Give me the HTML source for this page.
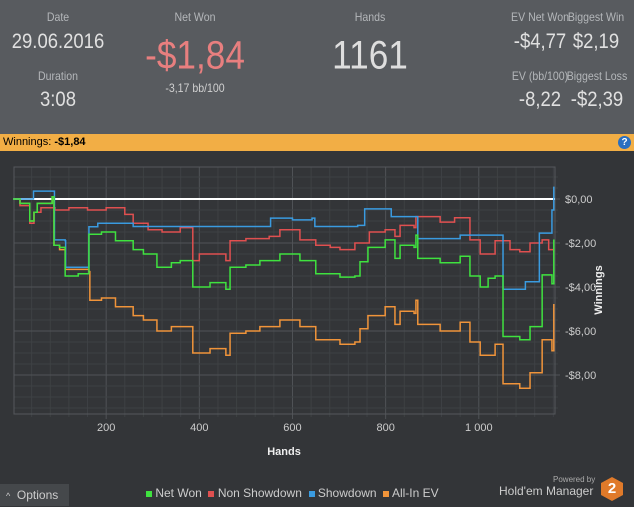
<!DOCTYPE html>
<html><head><meta charset="utf-8"><style>
body{margin:0;width:634px;height:506px;overflow:hidden;background:#333538;font-family:"Liberation Sans",sans-serif;position:relative}
.h{position:absolute;top:0;left:0;width:634px;height:134px;background:#585b5f}
.t{position:absolute;transform:translate(-50%,-50%) scaleX(0.88);white-space:nowrap;color:#c8c8c8}
.lab{font-size:12px;color:#b4b7ba}
.val{font-size:21px;color:#e0e0e0}
.bar{position:absolute;top:134px;left:0;width:634px;height:17px;background:#f2ae45;font-size:11px;line-height:17px}
</style></head><body>
<div class="h">
<div class="t lab" style="left:58px;top:17px">Date</div>
<div class="t val" style="left:58px;top:42px">29.06.2016</div>
<div class="t lab" style="left:58px;top:76px">Duration</div>
<div class="t val" style="left:58px;top:100px">3:08</div>
<div class="t lab" style="left:195px;top:17px">Net Won</div>
<div class="t" style="left:195px;top:56px;font-size:40px;color:#e87f7f">-$1,84</div>
<div class="t" style="left:195px;top:88px;font-size:12px;color:#d0d0d0">-3,17 bb/100</div>
<div class="t lab" style="left:370px;top:17px">Hands</div>
<div class="t" style="left:370px;top:56px;font-size:40px;color:#dedede">1161</div>
<div class="t lab" style="left:540px;top:17px">EV Net Won</div>
<div class="t val" style="left:540px;top:42px">-$4,77</div>
<div class="t lab" style="left:596px;top:17px">Biggest Win</div>
<div class="t val" style="left:596px;top:42px">$2,19</div>
<div class="t lab" style="left:540px;top:76px">EV (bb/100)</div>
<div class="t val" style="left:540px;top:100px">-8,22</div>
<div class="t lab" style="left:597px;top:76px">Biggest Loss</div>
<div class="t val" style="left:597px;top:100px">-$2,39</div>
</div>
<div class="bar"><span style="margin-left:3px">Winnings: <b>-$1,84</b></span>
<span style="position:absolute;right:3px;top:2px;width:13px;height:13px;border-radius:50%;background:#2a6fc0;color:#fff;font-size:10px;line-height:13px;text-align:center;font-weight:bold">?</span></div>
<svg id="c" width="634" height="506" style="position:absolute;left:0;top:0;pointer-events:none"></svg>
<div style="position:absolute;left:0;top:484px;width:69px;height:22px;background:#45484b;color:#ccc;font-size:12px;line-height:22px"><span style="margin-left:6px;font-size:9px">^</span> &nbsp;Options</div>
<div style="position:absolute;left:146px;top:486px;font-size:12px;color:#ccc;white-space:nowrap">
<span><span style="display:inline-block;width:6px;height:6px;background:#3fe23f"></span> Net Won</span>&nbsp;
<span><span style="display:inline-block;width:6px;height:6px;background:#e05050"></span> Non Showdown</span>&nbsp;
<span><span style="display:inline-block;width:6px;height:6px;background:#3a9be0"></span> Showdown</span>&nbsp;
<span><span style="display:inline-block;width:6px;height:6px;background:#f0943a"></span> All-In EV</span></div>
<div style="position:absolute;left:553px;top:475px;font-size:8px;color:#aaa">Powered by</div>
<div style="position:absolute;left:499px;top:484px;font-size:12px;color:#ccc">Hold'em Manager</div>
<div style="position:absolute;left:601px;top:477px;width:22px;height:24px;background:#e07a2a;clip-path:polygon(50% 0,100% 25%,100% 75%,50% 100%,0 75%,0 25%);color:#fff;font-weight:bold;font-size:15px;text-align:center;line-height:24px">2</div>
<script>
const netHands=[0,15,36,45,52,84,88,100,112,140,163,190,220,258,280,309,340,359,386,423,457,466,500,530,573,616,650,681,702,734,745,762,799,820,831,861,865,869,917,960,981,1003,1020,1035,1052,1088,1110,1136,1157,1161];
const netVals=[0,-0.2,-1.0,-0.6,-0.2,0.1,-2.1,-2.2,-3.5,-3.4,-1.6,-1.5,-1.9,-2.3,-2.5,-3.1,-2.9,-2.8,-4.0,-3.8,-4.1,-3.1,-3.0,-2.8,-2.5,-2.8,-3.4,-3.4,-3.55,-3.5,-2.85,-2.2,-1.86,-2.7,-2.1,-2.2,-1.64,-2.7,-2.9,-2.6,-3.5,-4.0,-3.6,-3.5,-6.25,-6.4,-5.8,-3.45,-3.85,-1.84];
const evHands=[0,15,36,45,52,84,88,100,112,163,165,190,220,258,280,309,340,359,386,423,457,466,500,530,573,616,650,681,702,734,745,762,799,820,831,861,865,869,917,960,981,1003,1035,1052,1088,1110,1136,1157,1161];
const evVals=[0,-0.2,-1.0,-0.6,-0.2,0.1,-2.1,-2.3,-3.2,-3.3,-4.6,-4.5,-4.9,-5.3,-5.5,-6.0,-5.8,-5.8,-7.0,-6.8,-7.1,-6.1,-6.0,-5.8,-5.5,-5.8,-6.4,-6.4,-6.6,-6.5,-5.9,-5.3,-4.9,-5.7,-5.1,-5.2,-4.6,-5.7,-6.0,-5.6,-6.5,-7.1,-6.6,-8.4,-8.6,-7.9,-6.4,-6.9,-4.77];
const nsdHands=[0,15,36,45,60,90,120,160,200,240,258,290,320,359,386,400,457,466,500,550,573,616,650,681,702,734,765,799,820,831,861,865,917,948,981,1003,1035,1067,1088,1110,1136,1150,1161];
const nsdVals=[0,-0.3,-1.1,-0.6,-0.4,-0.5,-0.4,-0.5,-0.4,-0.7,-1.1,-1.4,-1.5,-1.3,-2.8,-2.5,-2.8,-1.9,-1.8,-1.7,-1.4,-1.86,-2.1,-2.2,-2.3,-2.0,-1.5,-1.4,-1.7,-1.2,-1.3,-0.8,-1.05,-0.85,-1.86,-2.5,-1.9,-2.3,-2.4,-2.0,-1.86,-2.3,-2.4];
const sdHands=[0,43,44,88,89,112,113,162,163,182,258,552,553,600,642,648,740,755,812,869,960,1052,1100,1130,1157,1161];
const sdVals=[0,0,0.36,0.36,-1.86,-1.9,-3.1,-3.1,-1.26,-1.1,-1.25,-1.25,-0.87,-0.95,-0.87,-1.25,-1.2,-0.45,-0.8,-1.8,-1.64,-4.1,-3.76,-1.55,-0.5,0.56];
const xTicks=[200,400,600,800,1000];
const xTickLabels=["200","400","600","800","1 000"];
const yTicks=[0,-2,-4,-6,-8];
const yTickLabels=["$0,00","-$2,00","-$4,00","-$6,00","-$8,00"];

const L=14,R=555,T=167,B=414;
const X=h=>13+h*0.4658, Y=v=>199-v*22;
const svg=document.getElementById('c'),NS='http://www.w3.org/2000/svg';
function mk(t,a){const e=document.createElementNS(NS,t);for(const k in a)e.setAttribute(k,a[k]);svg.appendChild(e);return e;}
for(let h=40;h<1170;h+=40){const x=X(h);if(x>R)break;const g=mk('line',{x1:x,x2:x,y1:T,y2:B+(h%200==0?5:3),stroke:h%200==0?'#505357':'#3e4144'});

}
for(let v=1.0;v>-9.8;v-=0.5){const vv=Math.round(v*10)/10;const y=Y(vv);if(y<T||y>B)continue;const maj=Math.abs(vv%2)<0.01;const g=mk('line',{x1:L,x2:R+(maj?5:3),y1:y,y2:y,stroke:maj?'#505357':'#3e4144'});

}
let r=mk('rect',{x:L,y:T,width:R-L,height:B-T,fill:'none',stroke:'#55585c'});


xTicks.forEach((h,i)=>{const t=mk('text',{x:X(h),y:431,fill:'#ccc','font-size':11,'text-anchor':'middle'});t.textContent=xTickLabels[i];

});
yTicks.forEach((v,i)=>{const t=mk('text',{x:565,y:Y(v)+4,fill:'#ccc','font-size':11});t.textContent=yTickLabels[i];

});
let xt=mk('text',{x:284,y:455,fill:'#eee','font-size':11,'font-weight':'bold','text-anchor':'middle'});xt.textContent='Hands';


let yt=mk('text',{x:0,y:0,fill:'#eee','font-size':11,'font-weight':'bold','text-anchor':'middle',transform:'translate(602,290) rotate(-90)'});yt.textContent='Winnings';


let z=mk('line',{x1:L,x2:R,y1:Y(0),y2:Y(0),stroke:'#fff','stroke-width':2});


function series(hs,vs,col,name){let d='M'+X(hs[0])+' '+Y(vs[0]);for(let i=1;i<hs.length;i++){d+=' H'+X(hs[i])+' V'+Y(vs[i]);}
const p=mk('path',{d:d,fill:'none',stroke:col,'stroke-width':1.5});

}
series(evHands,evVals,'#f0943a','all-in-ev-line');
series(nsdHands,nsdVals,'#e05050','non-showdown-line');
series(sdHands,sdVals,'#3a9be0','showdown-line');
series(netHands,netVals,'#3fe23f','net-won-line');
</script>
</body></html>
